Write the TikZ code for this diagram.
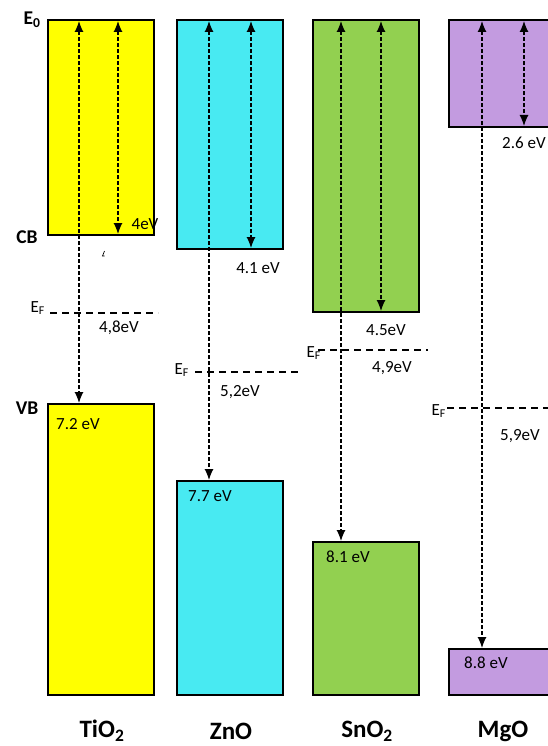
\documentclass[tikz,border=0pt]{standalone}
\usepackage{fontspec}
\setmainfont{Carlito}
\usetikzlibrary{arrows.meta}
\definecolor{cTi}{HTML}{FFFF00}
\definecolor{cZn}{HTML}{48EAF2}
\definecolor{cSn}{HTML}{92D050}
\definecolor{cMg}{HTML}{C39BE0}
\tikzset{
  band/.style={draw=black, line width=2.4pt},
  gap/.style={line width=1.2pt, dash pattern=on 4pt off 2pt, {Latex[length=11pt,width=9pt]}-{Latex[length=11pt,width=9pt]}},
  fermi/.style={line width=1.2pt, dash pattern=on 7pt off 5pt},
  val/.style={font=\fontsize{17}{19}\selectfont, inner sep=0pt},
  efl/.style={font=\fontsize{17}{19}\selectfont, inner sep=0pt},
  axl/.style={font=\fontsize{19.5}{22}\selectfont\bfseries, inner sep=0pt},
  mat/.style={font=\fontsize{25}{28}\selectfont\bfseries, inner sep=0pt}
}
\begin{document}
\begin{tikzpicture}[x=1pt,y=-1pt]
\useasboundingbox (0,0) rectangle (548,746);
\begin{scope}
\clip (0,0) rectangle (548,746);
% TiO2
\draw[band, fill=cTi] (48,20) rectangle (154,235);
\draw[band, fill=cTi] (48,404) rectangle (154,695);
% ZnO
\draw[band, fill=cZn] (177,20) rectangle (283,249);
\draw[band, fill=cZn] (177,481) rectangle (283,695);
% SnO2
\draw[band, fill=cSn] (313,20) rectangle (419,312);
\draw[band, fill=cSn] (313,542) rectangle (419,695);
% MgO
\draw[band, fill=cMg] (449,20) rectangle (560,127);
\draw[band, fill=cMg] (449,649) rectangle (560,695);
\end{scope}
% coordinates
\coordinate (t1a) at (79,21); \coordinate (t1b) at (79,403);
\coordinate (t2a) at (118,21); \coordinate (t2b) at (118,234);
\coordinate (z1a) at (209,21); \coordinate (z1b) at (209,480);
\coordinate (z2a) at (251,21); \coordinate (z2b) at (251,248);
\coordinate (s1a) at (341,21); \coordinate (s1b) at (341,541);
\coordinate (s2a) at (381,21); \coordinate (s2b) at (381,311);
\coordinate (m1a) at (482,21); \coordinate (m1b) at (482,648);
\coordinate (m2a) at (524,21); \coordinate (m2b) at (524,126);
\draw[gap] (t1a) -- (t1b);
\draw[gap] (t2a) -- (t2b);
\draw[gap] (z1a) -- (z1b);
\draw[gap] (z2a) -- (z2b);
\draw[gap] (s1a) -- (s1b);
\draw[gap] (s2a) -- (s2b);
\draw[gap] (m1a) -- (m1b);
\draw[gap] (m2a) -- (m2b);
% Fermi levels
\coordinate (ft1) at (50,313); \coordinate (ft2) at (158,313);
\coordinate (fz1) at (195,372); \coordinate (fz2) at (302,372);
\coordinate (fs1) at (318,350); \coordinate (fs2) at (428,350);
\coordinate (fm1) at (447,408); \coordinate (fm2) at (548,408);
\draw[fermi] (ft1) -- (ft2);
\draw[fermi] (fz1) -- (fz2);
\draw[fermi] (fs1) -- (fs2);
\draw[fermi] (fm1) -- (fm2);
% left labels
\node[axl] (e0) at (32,20) {E\textsubscript{0}};
\node[axl] (cb) at (27,237) {CB};
\node[axl] (vb) at (27,408) {VB};
% E_F labels
\node[efl, anchor=east] (eft) at (45,308) {E\textsubscript{F}};
\node[efl, anchor=east] (efz) at (189,370) {E\textsubscript{F}};
\node[efl, anchor=east] (efs) at (321,353) {E\textsubscript{F}};
\node[efl, anchor=east] (efm) at (446,411) {E\textsubscript{F}};
% values
\node[val] (v1) at (145,224) {4eV};
\draw[line width=0.7pt] (104.5,251) -- (102.5,256) -- (104.5,256);
\node[val] (v2) at (119,328) {4,8eV};
\node[val, anchor=west] (v3) at (56,424) {7.2 eV};
\node[val] (v4) at (258,268) {4.1 eV};
\node[val] (v5) at (240,392) {5,2eV};
\node[val, anchor=west] (v6) at (188,496) {7.7 eV};
\node[val] (v7) at (386,330) {4.5eV};
\node[val] (v8) at (392,368) {4,9eV};
\node[val, anchor=west] (v9) at (326,557) {8.1 eV};
\node[val, anchor=west] (v10) at (502,143) {2.6 eV};
\node[val] (v11) at (520,436) {5,9eV};
\node[val, anchor=west] (v12) at (464,663) {8.8 eV};
% materials
\node[mat] (n1) at (102,731) {TiO\textsubscript{2}};
\node[mat] (n2) at (231,731) {ZnO};
\node[mat] (n3) at (367,731) {SnO\textsubscript{2}};
\node[mat] (n4) at (503,731) {MgO};
\end{tikzpicture}
\end{document}
